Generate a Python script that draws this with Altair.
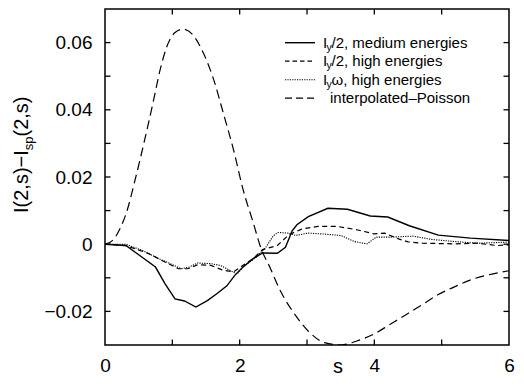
import altair as alt
import pandas as pd

# ---------------- data ----------------
s_medium = [0, 0.31, 0.51, 0.75, 0.89, 1.04, 1.18, 1.35, 1.52, 1.67, 1.81, 1.93, 2.05,
            2.20, 2.34, 2.56, 2.68, 2.78, 2.85, 3.02, 3.31, 3.60, 3.94, 4.20, 4.52,
            4.95, 5.43, 6.0]
v_medium = [0, -0.0004, -0.0033, -0.0068, -0.0117, -0.0163, -0.0169, -0.0187, -0.0168,
            -0.0146, -0.0124, -0.0092, -0.0068, -0.0043, -0.0026, -0.0027, -0.0009,
            0.0040, 0.0058, 0.0082, 0.0107, 0.0104, 0.0084, 0.0081, 0.0055, 0.0027,
            0.0018, 0.0011]

s_high = [0, 0.31, 0.65, 0.89, 1.09, 1.23, 1.38, 1.57, 1.76, 1.91, 2.05, 2.20, 2.34,
          2.56, 2.73, 2.92, 3.16, 3.45, 3.74, 3.99, 4.15, 4.37, 4.50, 4.71, 5.19,
          5.53, 5.82, 6.0]
v_high = [0, -0.0004, -0.0028, -0.0053, -0.0073, -0.0073, -0.0061, -0.0063, -0.0078,
          -0.0082, -0.0063, -0.0043, -0.0016, -0.0004, 0.0028, 0.0045, 0.0053, 0.0053,
          0.0043, 0.0031, 0.0033, 0.0015, 0.0007, 0.0003, 0.0001, 0.0003, -0.0004,
          -0.0002]

s_omega = [0, 0.31, 0.56, 0.80, 0.99, 1.13, 1.25, 1.38, 1.57, 1.71, 1.86, 1.96, 2.05,
           2.25, 2.39, 2.50, 2.57, 2.73, 2.83, 3.02, 3.26, 3.50, 3.70, 3.89, 4.03,
           4.23, 4.57, 4.86, 5.19, 5.53, 6.0]
v_omega = [0, 0.0, -0.0019, -0.0043, -0.0060, -0.0073, -0.0068, -0.0056, -0.0058,
           -0.0063, -0.0078, -0.0089, -0.0068, -0.0038, -0.0009, 0.0025, 0.0035,
           0.0033, 0.0026, 0.0033, 0.0030, 0.0026, 0.0008, 0.0001, 0.0021, 0.0021,
           0.0024, 0.0014, 0.0008, 0.0003, 0.0006]

s_poisson = [0, 0.07, 0.15, 0.22, 0.31, 0.46, 0.60, 0.72, 0.82, 0.92, 1.04, 1.16, 1.30,
             1.47, 1.62, 1.76, 1.91, 2.05, 2.20, 2.32, 2.44, 2.61, 2.83, 3.02, 3.26,
             3.50, 3.74, 3.99, 4.23, 4.47, 4.71, 4.95, 5.19, 5.43, 5.68, 6.0]
v_poisson = [0, 0.0005, 0.0020, 0.0045, 0.0089, 0.0202, 0.0320, 0.0427, 0.0520, 0.0589,
             0.0630, 0.0640, 0.0624, 0.0565, 0.0486, 0.0388, 0.0280, 0.0163, 0.0065,
             -0.0014, -0.0065, -0.0141, -0.0212, -0.0259, -0.0293, -0.0300, -0.0288,
             -0.0268, -0.0239, -0.0210, -0.0180, -0.0150, -0.0127, -0.0106, -0.0092,
             -0.0079]

legend_prefix = ["I", "I", "I", ""]
legend_sub = ["y", "y", "y", ""]
legend_rest = ["/2, medium energies", "/2, high energies", "\u03c9, high energies",
               "interpolated\u2013Poisson"]

x_label_values = [0, 2, 4, 6]
y_label_values = [-0.02, 0, 0.02, 0.04, 0.06]
x_minor = [1, 2, 3, 4, 5]
y_minor = [-0.02, -0.01, 0, 0.01, 0.02, 0.03, 0.04, 0.05, 0.06]

# ---------------- layout ----------------
W, H = 404, 336
FONT = "Liberation Sans"

xscale = alt.Scale(domain=[0, 6], nice=False, zero=False)
yscale = alt.Scale(domain=[-0.03, 0.07], nice=False, zero=False)
xaxis = alt.Axis(values=x_label_values, title=None, grid=False, domain=False,
                 ticks=False, tickSize=0, labelFontSize=19, labelFont=FONT,
                 labelColor="black", labelPadding=11, labelFlush=False,
                 labelOverlap=False)
yaxis = alt.Axis(values=y_label_values, title=None, grid=False, domain=False,
                 ticks=False, tickSize=0, labelFontSize=19, labelFont=FONT,
                 labelColor="black", labelPadding=13, labelFlush=False,
                 labelOverlap=False,
                 labelExpr="datum.value == 0 ? '0' : replace(format(datum.value, '.2f'), '-', '\u2212')")

one = pd.DataFrame({"a": [0]})


def curve(s, v, width, dash=None, interp="linear"):
    kw = dict(color="black", strokeWidth=width, interpolate=interp, clip=True)
    if dash is not None:
        kw["strokeDash"] = dash
    return alt.Chart(pd.DataFrame({"s": s, "v": v})).mark_line(**kw).encode(
        x=alt.X("s:Q", scale=xscale, axis=xaxis),
        y=alt.Y("v:Q", scale=yscale, axis=yaxis),
    )


layers = [
    curve(s_poisson, v_poisson, 1.2, [9, 5], "monotone"),
    curve(s_high, v_high, 1.2, [5, 3.5]),
    curve(s_omega, v_omega, 1.1, [1.2, 1.2]),
    curve(s_medium, v_medium, 1.4),
]

# inside ticks on all four sides
yt = pd.DataFrame({"v": y_minor})
xt = pd.DataFrame({"s": x_minor})
TL = 5.5
for x0, x1 in [(0, TL), (W - TL, W)]:
    layers.append(alt.Chart(yt).mark_rule(color="black", strokeWidth=1.3).encode(
        y=alt.Y("v:Q", scale=yscale, axis=yaxis), x=alt.value(x0), x2=alt.value(x1)))
for y0, y1 in [(H - TL, H), (0, TL)]:
    layers.append(alt.Chart(xt).mark_rule(color="black", strokeWidth=1.3).encode(
        x=alt.X("s:Q", scale=xscale, axis=xaxis), y=alt.value(y0), y2=alt.value(y1)))

# legend
row_y = [33.7, 52.2, 70.7, 89.2]
dashes = [None, [4.5, 3], [1.2, 1.2], [7, 4]]
widths = [1.4, 1.2, 1.1, 1.2]
LX = 180
for i in range(4):
    kw = dict(color="black", strokeWidth=widths[i])
    if dashes[i] is not None:
        kw["strokeDash"] = dashes[i]
    layers.append(alt.Chart(one).mark_rule(**kw).encode(
        x=alt.value(LX), x2=alt.value(LX + 30), y=alt.value(row_y[i])))
    if legend_prefix[i]:
        layers.append(alt.Chart(one).mark_text(
            text=legend_prefix[i], font=FONT, fontSize=15, align="left",
            baseline="alphabetic", color="black").encode(
            x=alt.value(LX + 38), y=alt.value(row_y[i] + 4.8)))
        layers.append(alt.Chart(one).mark_text(
            text=legend_sub[i], font=FONT, fontSize=10.5, align="left",
            baseline="alphabetic", color="black").encode(
            x=alt.value(LX + 41.5), y=alt.value(row_y[i] + 8)))
        layers.append(alt.Chart(one).mark_text(
            text=legend_rest[i], font=FONT, fontSize=15, align="left",
            baseline="alphabetic", color="black").encode(
            x=alt.value(LX + 46.5), y=alt.value(row_y[i] + 4.8)))
    else:
        layers.append(alt.Chart(one).mark_text(
            text=legend_rest[i], font=FONT, fontSize=15, align="left",
            baseline="alphabetic", color="black").encode(
            x=alt.value(LX + 45), y=alt.value(row_y[i] + 4.8)))

# x title
layers.append(alt.Chart(one).mark_text(
    text="s", font=FONT, fontSize=20, align="center", baseline="alphabetic",
    color="black").encode(x=alt.value(233), y=alt.value(H + 28)))

# y title (rotated, with subscript)
title_parts = [("I(2,s)\u2212I", 20, -77, 204),
               ("sp", 13, -72.5, 141.2),
               ("(2,s)", 20, -77, 127.5)]
for txt, fs, xx, yy in title_parts:
    layers.append(alt.Chart(one).mark_text(
        text=txt, font=FONT, fontSize=fs, angle=270, align="left",
        baseline="alphabetic", color="black").encode(
        x=alt.value(xx), y=alt.value(yy)))

chart = alt.layer(*layers).properties(
    width=W, height=H,
    autosize=alt.AutoSizeParams(type="none"),
    padding={"left": 97, "top": 1, "right": 7, "bottom": 32},
).configure(
    background="white",
    view=alt.ViewConfig(stroke="black", strokeWidth=1.5),
)

chart.save("out.html", embed_options={"renderer": "svg", "actions": False})
